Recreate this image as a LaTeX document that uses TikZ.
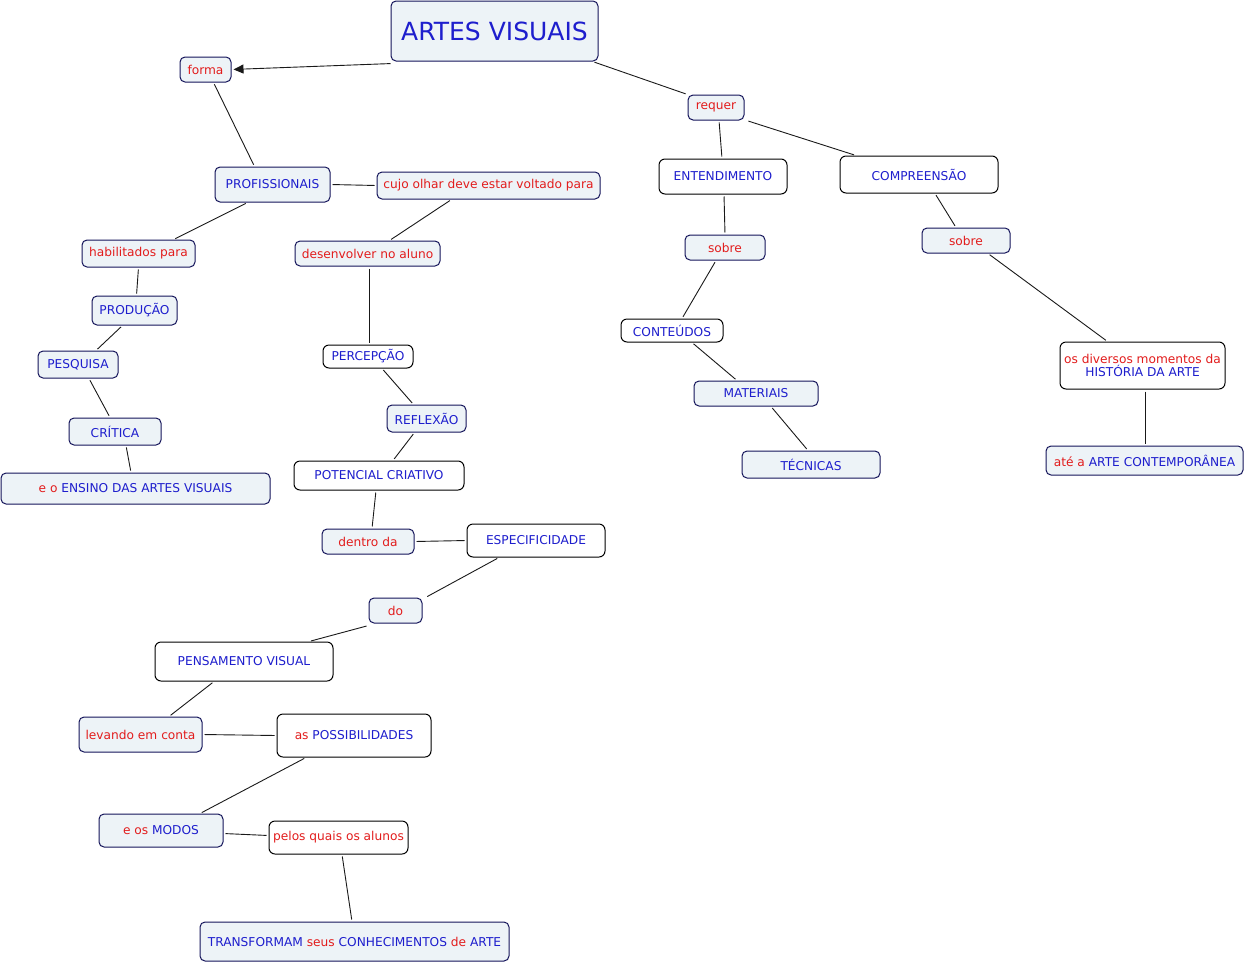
\documentclass[tikz,border=0pt]{standalone}
\usepackage{fontspec}
\usetikzlibrary{arrows.meta}
\newfontfamily\dvs{DejaVu Sans}
\newcommand\cmapfont{\dvs\fontsize{12.2pt}{15pt}\selectfont}
\newcommand\titlefont{\dvs\fontsize{25pt}{29pt}\selectfont}
\definecolor{nodefill}{RGB}{237,243,247}
\definecolor{navy}{RGB}{20,20,90}
\definecolor{tblue}{RGB}{30,30,205}
\definecolor{tred}{RGB}{226,28,28}
\newcommand\rd[1]{\textcolor{tred}{#1}}
\tikzset{
  sz/.style 2 args={minimum width=#1pt, minimum height=#2pt},
  cb/.style={rectangle, draw=navy, fill=nodefill, rounded corners=5pt, line width=1pt, inner sep=0pt, font=\cmapfont, text=tblue, align=center},
  cw/.style={rectangle, draw=black, fill=white, rounded corners=6pt, line width=1pt, inner sep=0pt, font=\cmapfont, text=tblue, align=center},
  rtext/.style={text=tred},
  link/.style={draw=black!90, line width=0.9pt, shorten >=2pt, shorten <=2pt},
  arrowlink/.style={link, -{Triangle[length=10pt,width=9pt]}},
}
\begin{document}
\begin{tikzpicture}[x=1pt,y=-1pt]
\useasboundingbox (0,0) rectangle (1246,964);
% nodes
\node[cb, sz={207}{60}, font=\titlefont] (art) at (494.5,31) {ARTES VISUAIS};
\node[cb, rtext, sz={51}{25}] (forma) at (205.5,69.5) {forma};
\node[cb, rtext, sz={56}{25}] (req) at (716,107.5) {requer};
\node[cb, sz={115}{35}] (prof) at (272.5,184.5) {PROFISSIONAIS};
\node[cb, rtext, sz={223}{27}] (cujo) at (488.5,185.5) {cujo olhar deve estar voltado para};
\node[cw, sz={128}{35}] (ent) at (723,176.5) {ENTENDIMENTO};
\node[cw, sz={158}{37}] (comp) at (919,174.5) {COMPREENSÃO};
\node[cb, rtext, sz={113}{27}] (habil) at (138.5,253.5) {habilitados para};
\node[cb, rtext, sz={145}{25}] (desenv) at (367.5,253.5) {desenvolver no aluno};
\node[cb, rtext, sz={80}{25}] (sobreL) at (725,247.5) {sobre};
\node[cb, rtext, sz={88}{25}] (sobreR) at (966,240.5) {sobre};
\node[cb, sz={85}{29}] (prod) at (134.5,310.5) {PRODUÇÃO};
\node[cb, sz={80}{27}] (pesq) at (78,364.5) {PESQUISA};
\node[cw, sz={90}{23}] (perc) at (368,356.5) {PERCEPÇÃO};
\node[cw, sz={102}{23}] (cont) at (672,330.5) {CONTEÚDOS};
\node[cb, sz={124}{25}] (mat) at (756,393.5) {MATERIAIS};
\node[cw, sz={165}{47}] (div) at (1142.5,365.5) {\rd{os diversos momentos da}\\[-2pt]HISTÓRIA DA ARTE};
\node[cb, sz={79}{27}] (refl) at (426.5,418.5) {REFLEXÃO};
\node[cb, sz={92}{27}] (crit) at (115,431.5) {CRÍTICA};
\node[cb, sz={138}{27}] (tec) at (811,464.5) {TÉCNICAS};
\node[cb, sz={197}{29}] (ate) at (1144.5,460.5) {\rd{até a} ARTE CONTEMPORÂNEA};
\node[cw, sz={170}{29}] (pot) at (379,475.5) {POTENCIAL CRIATIVO};
\node[cb, sz={269}{31}] (ens) at (135.5,488.5) {\rd{e o} ENSINO DAS ARTES VISUAIS};
\node[cb, rtext, sz={92}{25}] (dentro) at (368,541.5) {dentro da};
\node[cw, sz={138}{33}] (espec) at (536,540.5) {ESPECIFICIDADE};
\node[cb, rtext, sz={53}{25}] (do) at (395.5,610.5) {do};
\node[cw, sz={178}{39}] (pens) at (244,661.5) {PENSAMENTO VISUAL};
\node[cb, rtext, sz={123}{35}] (lev) at (140.5,734.5) {levando em conta};
\node[cw, sz={154}{43}] (poss) at (354,735.5) {\rd{as} POSSIBILIDADES};
\node[cb, sz={124}{33}] (modos) at (161,830.5) {\rd{e os} MODOS};
\node[cw, rtext, sz={139}{33}] (pelos) at (338.5,837.5) {pelos quais os alunos};
\node[cb, sz={309}{39}] (trans) at (354.5,941.5) {TRANSFORMAM \rd{seus} CONHECIMENTOS \rd{de} ARTE};
% connectors
\draw[arrowlink] ([xshift=2pt,yshift=-2pt]art.south west) -- (forma.east);
\draw[link] ([xshift=-6pt]art.south east) -- (req.north west);
\draw[link] ([xshift=8pt]forma.south) -- ([xshift=-18pt]prof.north);
\draw[link] (prof.east) -- (cujo.west);
\draw[link] ([xshift=-25pt]prof.south) -- ([xshift=35pt]habil.north);
\draw[link] ([xshift=-37pt]cujo.south) -- ([xshift=22pt]desenv.north);
\draw[link] ([xshift=3pt]req.south) -- ([xshift=-1pt]ent.north);
\draw[link] ([xshift=2pt]req.south east) -- ([xshift=-63pt]comp.north);
\draw[link] ([xshift=1pt]ent.south) -- (sobreL.north);
\draw[link] ([xshift=16pt]comp.south) -- ([xshift=-10pt]sobreR.north);
\draw[link] (habil.south) -- ([xshift=2pt]prod.north);
\draw[link] ([xshift=1.5pt]desenv.south) -- ([xshift=1pt]perc.north);
\draw[link] ([xshift=-9pt]sobreL.south) -- ([xshift=10pt]cont.north);
\draw[link] ([xshift=22pt]sobreR.south) -- ([xshift=-35pt]div.north);
\draw[link] ([xshift=-12pt]prod.south) -- ([xshift=18pt]pesq.north);
\draw[link] ([xshift=14pt]perc.south) -- ([xshift=-13pt]refl.north);
\draw[link] ([xshift=20pt]cont.south) -- ([xshift=-19pt]mat.north);
\draw[link] ([xshift=2.5pt]div.south) -- ([xshift=0.5pt]ate.north);
\draw[link] ([xshift=11pt]pesq.south) -- ([xshift=-5pt]crit.north);
\draw[link] ([xshift=-12pt]refl.south) -- ([xshift=14pt]pot.north);
\draw[link] ([xshift=15pt]mat.south) -- ([xshift=-3pt]tec.north);
\draw[link] ([xshift=11pt]crit.south) -- ([xshift=-4.5pt]ens.north);
\draw[link] ([xshift=-3pt]pot.south) -- ([xshift=4pt]dentro.north);
\draw[link] (dentro.east) -- (espec.west);
\draw[link] ([xshift=-37pt]espec.south) -- ([xshift=3pt]do.north east);
\draw[link] ([yshift=-2pt]do.south west) -- ([xshift=65pt]pens.north);
\draw[link] ([xshift=-30pt]pens.south) -- ([xshift=28.5pt]lev.north);
\draw[link] (lev.east) -- (poss.west);
\draw[link] ([xshift=-48pt]poss.south) -- ([xshift=39pt]modos.north);
\draw[link] ([yshift=-3pt]modos.east) -- ([yshift=2pt]pelos.west);
\draw[link] ([xshift=3.5pt]pelos.south) -- ([xshift=-2.5pt]trans.north);
\end{tikzpicture}
\end{document}
